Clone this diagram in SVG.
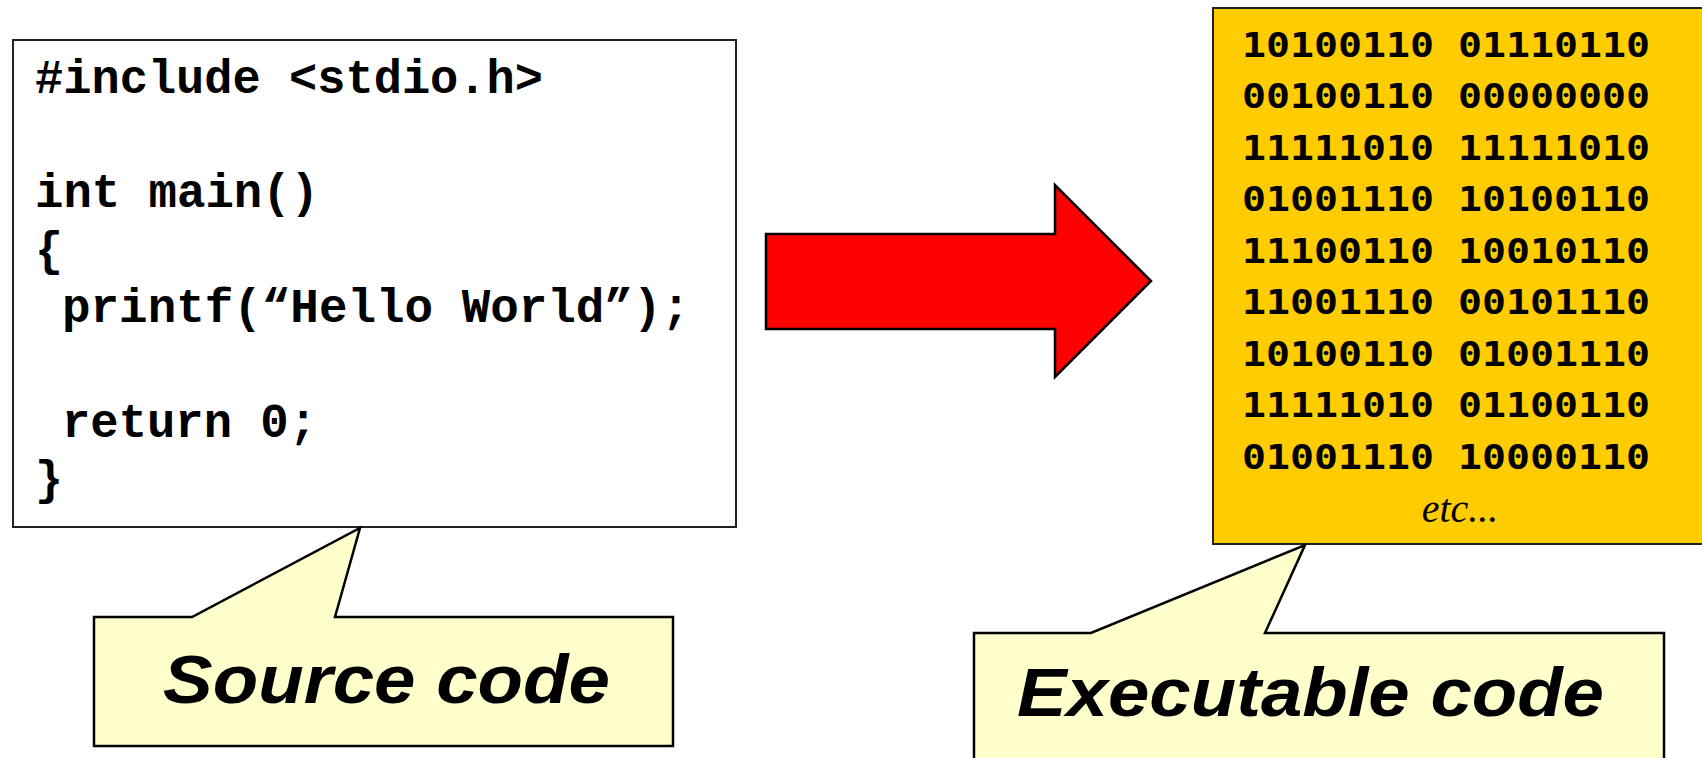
<svg xmlns="http://www.w3.org/2000/svg" width="1702" height="758" viewBox="0 0 1702 758">
<style>
.code{font-family:"Liberation Mono","Courier New",monospace;font-weight:bold;font-size:48px;fill:#000}
.bin{font-family:"DejaVu Sans Mono","Liberation Mono",monospace;font-weight:bold;font-size:34px;fill:#000}
.etc{font-family:"Liberation Serif","Times New Roman",serif;font-style:italic;font-size:40px;fill:#000}
.lbl{font-family:"Liberation Sans",Arial,sans-serif;font-weight:bold;font-style:italic;font-size:68px;fill:#000}
.callout{fill:#FFFFCC;stroke:#000;stroke-width:2.5;stroke-linejoin:miter}
</style>
<rect width="1702" height="758" fill="#fff"/>
<g id="source-box">
<rect x="13" y="40" width="723" height="487" fill="#fff" stroke="#222" stroke-width="2"/>
<text class="code" x="35" y="93" textLength="508" lengthAdjust="spacingAndGlyphs">#include &lt;stdio.h&gt;</text>
<text class="code" x="35" y="207" textLength="284" lengthAdjust="spacingAndGlyphs">int main()</text>
<text class="code" x="35" y="265" textLength="28" lengthAdjust="spacingAndGlyphs">{</text>
<text class="code" x="62" y="322" textLength="628" lengthAdjust="spacingAndGlyphs">printf(“Hello World”);</text>
<text class="code" x="62" y="437" textLength="255" lengthAdjust="spacingAndGlyphs">return 0;</text>
<text class="code" x="35" y="494" textLength="28" lengthAdjust="spacingAndGlyphs">}</text>
</g>
<g id="connectors">
<polygon points="766,234 1055,234 1055,185 1151,281 1055,377 1055,329 766,329" fill="#FF0000" stroke="#000" stroke-width="2.5" stroke-linejoin="miter"/>
</g>
<g id="executable-box">
<rect x="1213" y="8" width="500" height="536" fill="#FFCC00" stroke="#222" stroke-width="2"/>
<g class="bin">
<text x="1242" y="57" textLength="408" lengthAdjust="spacingAndGlyphs">10100110 01110110</text>
<text x="1242" y="108" textLength="408" lengthAdjust="spacingAndGlyphs">00100110 00000000</text>
<text x="1242" y="160" textLength="408" lengthAdjust="spacingAndGlyphs">11111010 11111010</text>
<text x="1242" y="211" textLength="408" lengthAdjust="spacingAndGlyphs">01001110 10100110</text>
<text x="1242" y="263" textLength="408" lengthAdjust="spacingAndGlyphs">11100110 10010110</text>
<text x="1242" y="314" textLength="408" lengthAdjust="spacingAndGlyphs">11001110 00101110</text>
<text x="1242" y="366" textLength="408" lengthAdjust="spacingAndGlyphs">10100110 01001110</text>
<text x="1242" y="417" textLength="408" lengthAdjust="spacingAndGlyphs">11111010 01100110</text>
<text x="1242" y="469" textLength="408" lengthAdjust="spacingAndGlyphs">01001110 10000110</text>
</g>
<text class="etc" x="1460" y="522" text-anchor="middle">etc...</text>
</g>
<g id="source-callout">
<path class="callout" d="M94,617 L192,617 L360,528 L335,617 L673,617 L673,746 L94,746 Z"/>
<text class="lbl" x="163" y="703" textLength="447" lengthAdjust="spacingAndGlyphs">Source code</text>
</g>
<g id="executable-callout">
<path class="callout" d="M974,633 L1091,633 L1305,545 L1265,633 L1664,633 L1664,762 L974,762 Z"/>
<text class="lbl" x="1017" y="716" textLength="587" lengthAdjust="spacingAndGlyphs">Executable code</text>
</g>
</svg>
